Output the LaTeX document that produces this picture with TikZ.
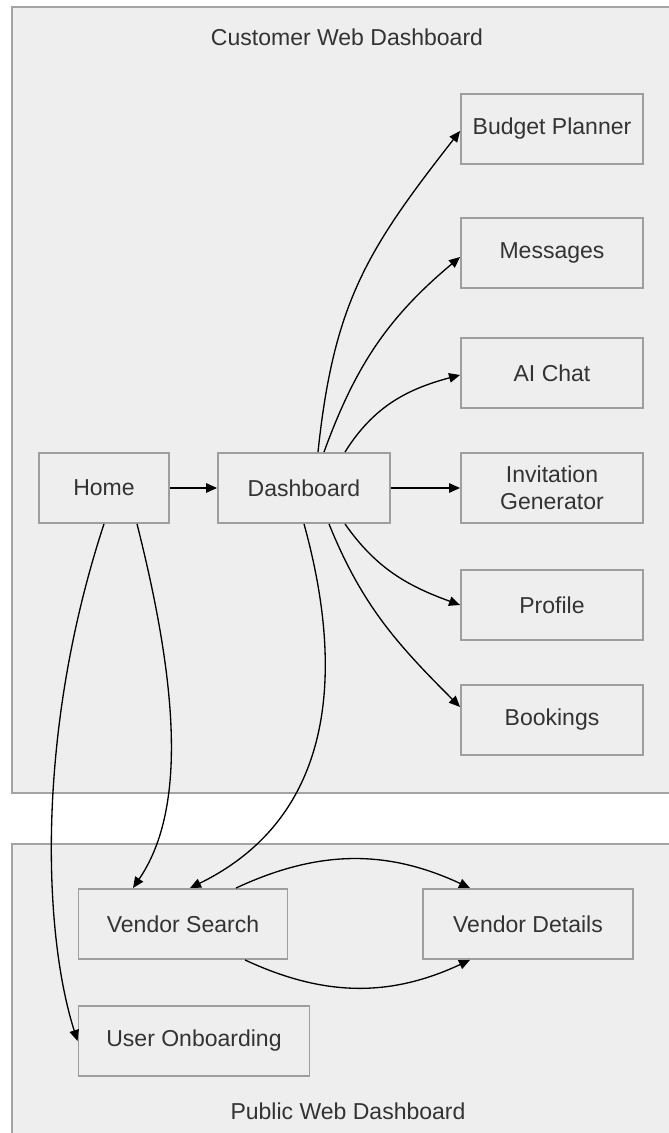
\documentclass[tikz,border=0pt]{standalone}
\usepackage{fontspec}
\setmainfont{Liberation Sans}
\usetikzlibrary{arrows.meta}

\definecolor{grpfill}{HTML}{EEEEEE}
\definecolor{grpline}{HTML}{A3A3A3}
\definecolor{boxline}{HTML}{9E9E9E}
\definecolor{txt}{HTML}{333333}

\begin{document}
\begin{tikzpicture}[x=0.02cm,y=0.02cm,
  grp/.style={draw=grpline,fill=grpfill,line width=1.1pt},
  lbl/.style={text=txt,font=\fontsize{13.1}{15.5}\selectfont},
  box/.style={lbl,draw=boxline,fill=grpfill,line width=1.1pt,
    minimum height=1.4cm,inner sep=0pt,align=center},
  link/.style={-{Triangle[length=0.22cm,width=0.19cm]},line width=0.75pt,black}]
\useasboundingbox (0,0) rectangle (669,1133);
\clip (0,0) rectangle (669,1133);
\fill[white] (0,0) rectangle (669,1133);

% the two groups
\draw[grp] (12,340) rectangle (720,1126);
\draw[grp] (12,-30) rectangle (720,289);
\node[lbl] (custtitle) at (347,1096) {Customer Web Dashboard};
\node[lbl] (pubtitle) at (348,22) {Public Web Dashboard};

% customer pages
\node[box,minimum width=2.6cm] (home) at (104,645) {Home};
\node[box,minimum width=3.44cm] (dash) at (304,645) {Dashboard};
\node[box,minimum width=3.64cm] (budget) at (552,1004) {Budget Planner};
\node[box,minimum width=3.64cm] (msgs) at (552,880) {Messages};
\node[box,minimum width=3.64cm] (aichat) at (552,760) {AI Chat};
\node[box,minimum width=3.64cm] (invite) at (552,645) {Invitation\\Generator};
\node[box,minimum width=3.64cm] (profile) at (552,528) {Profile};
\node[box,minimum width=3.64cm] (bookings) at (552,413) {Bookings};

% public pages
\node[box,minimum width=4.18cm] (vsearch) at (183,209) {Vendor Search};
\node[box,minimum width=4.2cm] (vdetails) at (528,209) {Vendor Details};
\node[box,minimum width=4.62cm] (onboard) at (194,92) {User Onboarding};

% links
\draw[link] (home) -- (dash);
\draw[link] (dash) -- (invite);
\draw[link] ([xshift=14*0.02cm]dash.north) to[out=84,in=232,looseness=1.1] ([yshift=-2*0.02cm]budget.west);
\draw[link] ([xshift=20*0.02cm]dash.north) to[out=70,in=220] ([yshift=-4*0.02cm]msgs.west);
\draw[link] ([xshift=41*0.02cm]dash.north) to[out=58,in=195] ([yshift=-2*0.02cm]aichat.west);
\draw[link] ([xshift=41*0.02cm]dash.south) to[out=-55,in=160] (profile.west);
\draw[link] ([xshift=25*0.02cm]dash.south) to[out=-68,in=135] ([yshift=13*0.02cm]bookings.west);
\draw[link] (dash.south) .. controls +(36,-130) and +(155,76) .. ([xshift=7*0.02cm]vsearch.north);
\draw[link] ([xshift=33*0.02cm]home.south) .. controls +(43,-170) and +(52,76) .. ([xshift=-50*0.02cm]vsearch.north);
\draw[link] (home.south) .. controls +(-69,-210) and +(-34,106) .. (onboard.west);
\draw[link] ([xshift=53*0.02cm]vsearch.north) to[out=25,in=155] ([xshift=-58*0.02cm]vdetails.north);
\draw[link] ([xshift=62*0.02cm]vsearch.south) to[out=-25,in=-155] ([xshift=-58*0.02cm]vdetails.south);
\end{tikzpicture}
\end{document}
